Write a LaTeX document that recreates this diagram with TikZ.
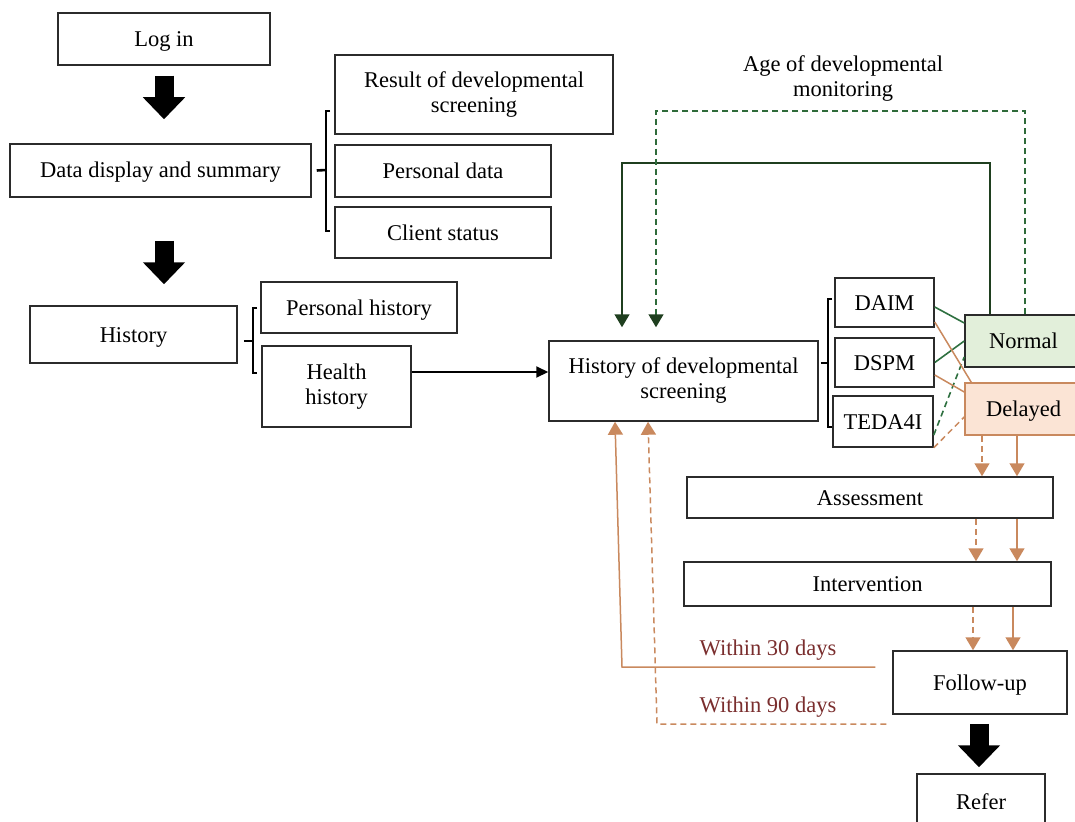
\documentclass[tikz,border=0pt]{standalone}
\usepackage{fontspec}
\setmainfont{Liberation Serif}
\usetikzlibrary{arrows.meta,calc}
\definecolor{boxline}{HTML}{2B2B2B}
\definecolor{gfill}{HTML}{E2EFDA}
\definecolor{ofill}{HTML}{FBE4D5}
\definecolor{oline}{HTML}{C9895E}
\definecolor{gdark}{HTML}{1F3F1F}
\definecolor{gline}{HTML}{2E7040}
\definecolor{gdash}{HTML}{2E6B3A}
\definecolor{lbl}{HTML}{7A2E2E}
\tikzset{
  box2/.style={draw=boxline, line width=1.5pt, rectangle, inner sep=2pt, align=center, font=\fontsize{22.5}{25}\selectfont},
  box/.style={box2, text height=17pt, text depth=2pt},
  lab2/.style={align=center, font=\fontsize{22.5}{25}\selectfont},
  lab/.style={lab2, text height=17pt, text depth=2pt},
  brace/.style={line width=2.6pt, draw=black},
  blkarr/.style={line width=19pt, draw=black, -{Triangle[length=22pt,width=41pt]}},
  harrow/.style={line width=2pt, draw=black, -{Triangle[length=12pt,width=11pt]}},
  gsolid/.style={line width=1.5pt, draw=gdark, -{Triangle[length=13pt,width=15pt,color=gdark]}},
  gdashed/.style={line width=1.5pt, draw=gdash, dash pattern=on 6pt off 4pt, -{Triangle[length=13pt,width=15pt,color=gdark]}},
  osolid/.style={line width=1.5pt, draw=oline, -{Triangle[length=13pt,width=15pt,color=oline]}},
  odashed/.style={line width=1.5pt, draw=oline, dash pattern=on 6pt off 4pt, -{Triangle[length=13pt,width=15pt,color=oline]}},
  glink/.style={line width=1.6pt, draw=gline},
  glinkd/.style={line width=1.6pt, draw=gline, dash pattern=on 6pt off 4pt},
  olink/.style={line width=1.5pt, draw=oline},
  olinkd/.style={line width=1.5pt, draw=oline, dash pattern=on 6pt off 4pt},
}
\begin{document}
\begin{tikzpicture}[x=1pt,y=-1pt]
\useasboundingbox (0,0) rectangle (1075,821);
% boxes
\node[box, minimum width=212, minimum height=52] (login) at (164,39) {Log in};
\node[box, minimum width=301, minimum height=53] (data) at (160.5,170.5) {Data display and summary};
\node[box2, minimum width=278, minimum height=79] (result) at (474,94.5) {Result of developmental\\screening};
\node[box, minimum width=216, minimum height=52] (pdata) at (443,171) {Personal data};
\node[box, minimum width=216, minimum height=51] (client) at (443,232.5) {Client status};
\node[box, minimum width=207, minimum height=57] (history) at (133.5,334.5) {History};
\node[box, minimum width=196, minimum height=51] (phist) at (359,307.5) {Personal history};
\node[box2, minimum width=149, minimum height=81] (hhist) at (336.5,386.5) {Health\\history};
\node[box2, minimum width=269, minimum height=80] (hds) at (683.5,381) {History of developmental\\screening};
\node[box, minimum width=99, minimum height=49] (daim) at (884.5,302.5) {DAIM};
\node[box, minimum width=99, minimum height=49] (dspm) at (884.5,362.5) {DSPM};
\node[box, minimum width=100, minimum height=51] (teda) at (883,421.5) {TEDA4I};
\node[box, fill=gfill, minimum width=117, minimum height=52] (normal) at (1023.5,341) {Normal};
\node[box, draw=oline, fill=ofill, minimum width=117, minimum height=52] (delayed) at (1023.5,409) {Delayed};
\node[box, minimum width=366, minimum height=41] (assess) at (870,497.5) {Assessment};
\node[box, minimum width=367, minimum height=44] (interv) at (867.5,584) {Intervention};
\node[box, minimum width=174, minimum height=63] (follow) at (980,682.5) {Follow-up};
\node[box, minimum width=128, minimum height=56] (refer) at (981,802) {Refer};
% labels
\node[lab2] (agelab) at (843,79) {Age of developmental\\monitoring};
\node[lab, text=lbl] (w30) at (768,648) {Within 30 days};
\node[lab, text=lbl] (w90) at (768,705) {Within 90 days};
% brackets
\draw[brace] (330,111) -- (326,111) -- (326,231) -- (330,231);
\draw[brace] ($(data.east)+(5,0)$) -- (326,170);
\draw[brace] (257,308) -- (253,308) -- (253,373) -- (257,373);
\draw[brace] ($(history.east)+(6,6.5)$) -- (253,341);
\draw[brace] (832,299) -- (828,299) -- (828,427) -- (832,427);
\draw[brace] ($(hds.east)+(2,-18)$) -- (828,363);
% block arrows
\draw[blkarr] ($(login.south)+(0,10)$) -- ($(login.south |- data.north)+(0,-24)$);
\draw[blkarr] ($(data.south)+(3.5,43)$) -- ($(history.north)+(30.5,-21)$);
\draw[blkarr] ($(follow.south)+(-1,9)$) -- ($(refer.north)+(-2,-6)$);
% health history -> hds
\draw[harrow] ($(hhist.east)+(0,-14.5)$) -- ($(hds.west)+(0,-9)$);
% screening tool links
\draw[glink] ($(daim.east)+(0,4.5)$) -- ($(normal.west)+(0,-18)$);
\draw[glink] (dspm.east) -- (normal.west);
\draw[glinkd] ($(teda.east)+(0,13.5)$) -- ($(normal.west)+(0,16)$);
\draw[olink] ($(daim.east)+(0,19.5)$) -- ($(delayed.north west)+(7,0)$);
\draw[olink] ($(dspm.east)+(0,12.5)$) -- ($(delayed.west)+(0,-17)$);
\draw[olinkd] (teda.south east) -- ($(delayed.west)+(0,8)$);
% monitoring loops
\coordinate (gtop) at (622,163);
\coordinate (dtop) at (656,111);
\draw[gsolid] ($(normal.north)+(-33.5,0)$) |- (gtop) -- ($(hds.north)+(-61.5,-13)$);
\draw[gdashed] ($(normal.north)+(1.5,0)$) |- (dtop) -- ($(hds.north)+(-27.5,-13)$);
% delayed path
\draw[odashed] ($(delayed.south)+(-41.5,0)$) -- ($(assess.north)+(112,0)$);
\draw[osolid] ($(delayed.south)+(-6.5,0)$) -- ($(assess.north)+(147,0)$);
\draw[odashed] ($(assess.south)+(106,0)$) -- ($(interv.north)+(108.5,0)$);
\draw[osolid] ($(assess.south)+(147,0)$) -- ($(interv.north)+(149.5,0)$);
\draw[odashed] ($(interv.south)+(105.5,0)$) -- ($(follow.north)+(-7,0)$);
\draw[osolid] ($(interv.south)+(145.5,0)$) -- ($(follow.north)+(33,0)$);
% return loops
\coordinate (r30) at (622,667);
\coordinate (r90) at (657,724);
\draw[osolid] ($(follow.west)+(-17,-15.5)$) -- (r30) -- ($(hds.south)+(-68.5,0)$);
\draw[odashed] ($(follow.west)+(-6,41.5)$) -- (r90) -- ($(hds.south)+(-35.5,0)$);
\end{tikzpicture}
\end{document}
